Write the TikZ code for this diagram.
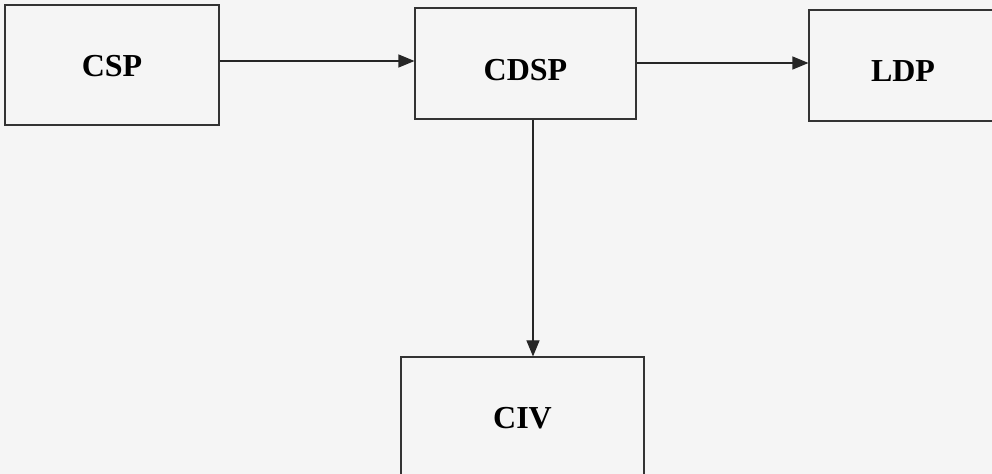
\documentclass[tikz,border=0pt]{standalone}
\usepackage{fontspec}
\setmainfont{Liberation Serif}
\usetikzlibrary{arrows.meta}
\tikzset{
  box/.style={draw=black!80, line width=1.1bp, fill=none, inner sep=0pt,
    text height=21bp, text depth=0bp,
    font=\fontsize{32bp}{36bp}\selectfont\bfseries},
  arr/.style={draw=black!85, line width=1.1bp, -{Triangle[length=16bp,width=13bp]}}
}
\begin{document}
\begin{tikzpicture}[x=1bp,y=-1bp]
\clip (0,0) rectangle (992,474);
\fill[black!4] (0,0) rectangle (992,474);
\node[box, minimum width=214bp, minimum height=120bp] (csp) at (112,65) {\raisebox{-1bp}{CSP}};
\node[box, minimum width=221bp, minimum height=111bp] (cdsp) at (525.5,63.5) {\raisebox{-6.5bp}{CDSP}};
\node[box, minimum width=188bp, minimum height=111bp] (ldp) at (903,65.5) {\raisebox{-5.5bp}{LDP}};
\node[box, minimum width=243bp, minimum height=122bp] (civ) at (522.5,418) {CIV};
\coordinate (drop) at (533,0);
\draw[arr] (csp.east |- 0,61) -- (cdsp.west |- 0,61);
\draw[arr] (cdsp.east |- 0,63) -- (ldp.west |- 0,63);
\draw[arr] (drop |- cdsp.south) -- (drop |- civ.north);
\end{tikzpicture}
\end{document}
